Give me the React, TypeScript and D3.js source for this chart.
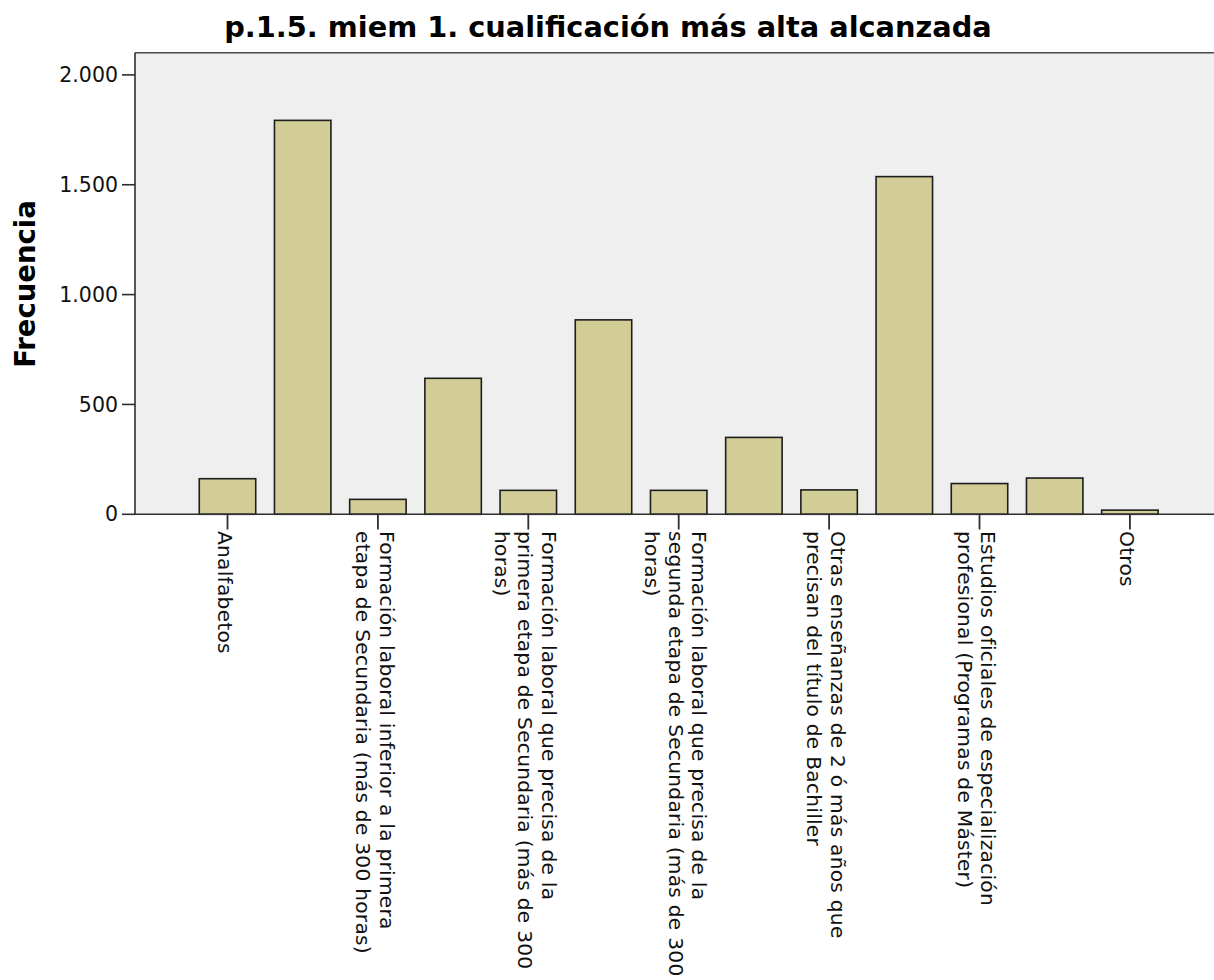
import React from "react";
import * as d3 from "d3";

const title = "p.1.5. miem 1. cualificación más alta alcanzada";
const yTitle = "Frecuencia";

const categories = [
  "Analfabetos",
  "Educación primaria",
  "Formación laboral inferior a la primera etapa de Secundaria (más de 300 horas)",
  "Primera etapa de Educación Secundaria",
  "Formación laboral que precisa de la primera etapa de Secundaria (más de 300 horas)",
  "Segunda etapa de Educación Secundaria",
  "Formación laboral que precisa de la segunda etapa de Secundaria (más de 300 horas)",
  "Enseñanzas de Formación Profesional de grado superior",
  "Otras enseñanzas de 2 ó más años que precisan del título de Bachiller",
  "Estudios universitarios",
  "Estudios oficiales de especialización profesional (Programas de Máster)",
  "Doctorado",
  "Otros",
];

const frequencies = [162, 1793, 68, 619, 109, 885, 109, 350, 111, 1537, 140, 165, 19];

// Label lines as shown on the axis (only every other category is labelled)
const labelLines: (string[] | null)[] = [
  ["Analfabetos"],
  null,
  ["Formación laboral inferior a la primera", "etapa de Secundaria (más de 300 horas)"],
  null,
  ["Formación laboral que precisa de la", "primera etapa de Secundaria (más de 300", "horas)"],
  null,
  ["Formación laboral que precisa de la", "segunda etapa de Secundaria (más de 300", "horas)"],
  null,
  ["Otras enseñanzas de 2 ó más años que", "precisan del título de Bachiller"],
  null,
  ["Estudios oficiales de especialización", "profesional (Programas de Máster)"],
  null,
  ["Otros"],
];

const yTicks = [0, 500, 1000, 1500, 2000];

const W = 1214;
const H = 980;
const plotLeft = 135;
const plotTop = 52.7;
const plotBottom = 514.3;
const plotRight = 1214;

const FONT = "'DejaVu Sans', 'Noto Sans', sans-serif";

export default function App() {
  const x = d3
    .scaleBand<string>()
    .domain(categories)
    .range([189.9, 189.9 + 13 * 75.2])
    .paddingInner(0.249)
    .paddingOuter(0.1245);

  const y = d3.scaleLinear().domain([0, 2101]).range([plotBottom, plotTop]);

  const locale = d3.formatLocale({
    decimal: ",",
    thousands: ".",
    grouping: [3],
    currency: ["", "€"],
  });
  const fmt = locale.format(",");

  const lineH = 23.4;
  const axisColor = "#2e2e2e";

  return (
    <svg
      width={W}
      height={H}
      style={{ position: "absolute", left: 0, top: 0, background: "#ffffff" }}
    >
      <rect
        x={plotLeft}
        y={plotTop}
        width={plotRight - plotLeft}
        height={plotBottom - plotTop}
        fill="#efefef"
      />
      {/* bars */}
      {categories.map((c, i) => (
        <rect
          key={c}
          x={x(c)}
          y={y(frequencies[i])}
          width={x.bandwidth()}
          height={y(0) - y(frequencies[i])}
          fill="#d2cd96"
          stroke="#1e1e1e"
          strokeWidth={1.6}
        />
      ))}
      {/* frame */}
      <line x1={plotLeft} x2={plotRight} y1={plotTop} y2={plotTop} stroke="#4a4a4a" strokeWidth={1.6} />
      <line x1={plotLeft} x2={plotLeft} y1={plotTop} y2={plotBottom} stroke={axisColor} strokeWidth={1.6} />
      <line x1={plotLeft} x2={plotRight} y1={plotBottom} y2={plotBottom} stroke={axisColor} strokeWidth={1.6} />
      {/* y ticks */}
      {yTicks.map((t) => (
        <g key={t} transform={`translate(0,${y(t)})`}>
          <line x1={122} x2={plotLeft} stroke={axisColor} strokeWidth={1.6} />
          <text
            x={118}
            dy="0.35em"
            textAnchor="end"
            fontFamily={FONT}
            fontSize={20.5}
            fill="#111"
          >
            {fmt(t)}
          </text>
        </g>
      ))}
      {/* x ticks and labels */}
      {categories.map((c, i) => {
        const lines = labelLines[i];
        if (!lines) return null;
        const cx = (x(c) as number) + x.bandwidth() / 2;
        const n = lines.length;
        return (
          <g key={"l" + c}>
            <line x1={cx} x2={cx} y1={plotBottom} y2={529.5} stroke={axisColor} strokeWidth={1.8} />
            <g transform={`translate(${cx},531) rotate(90)`}>
              <text
                fontFamily={FONT}
                fontSize={20.2}
                letterSpacing={0.25}
                fill="#111"
                dominantBaseline="central"
              >
                {lines.map((ln, j) => (
                  <tspan key={j} x={0} y={(j - (n - 1) / 2) * lineH + 3}>
                    {ln}
                  </tspan>
                ))}
              </text>
            </g>
          </g>
        );
      })}
      {/* titles */}
      <text
        x={608}
        y={37}
        textAnchor="middle"
        fontFamily={FONT}
        fontWeight="bold"
        fontSize={28.8}
        fill="#000"
      >
        {title}
      </text>
      <text
        transform={`translate(35,284) rotate(-90)`}
        textAnchor="middle"
        fontFamily={FONT}
        fontWeight="bold"
        fontSize={27.5}
        fill="#000"
      >
        {yTitle}
      </text>
    </svg>
  );
}
